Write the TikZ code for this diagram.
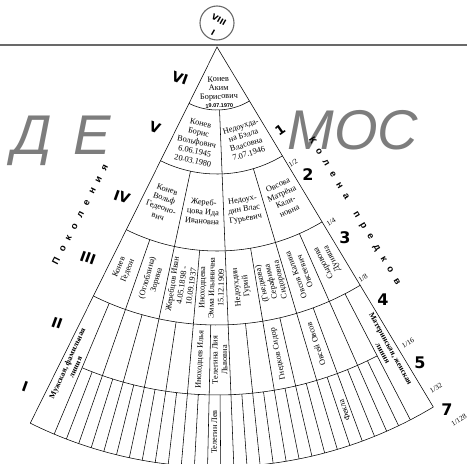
\documentclass[tikz,border=0pt]{standalone}
\usepackage{fontspec}
\setmainfont{Liberation Serif}
\setsansfont{Liberation Sans}
\newfontfamily\heavyfont{DejaVu Sans}
\usetikzlibrary{calc,positioning}

\definecolor{demosgray}{RGB}{125,125,125}
\definecolor{rulegray}{RGB}{105,105,105}

\newcommand{\fanstart}{-116.4}
\newcommand{\fanspread}{57.4}
\newcommand{\secang}[2]{(\fanstart+\fanspread*(#1-0.5)/#2)}
\newcommand{\lsp}{\hspace{7.5pt}}

\begin{document}
\begin{tikzpicture}[x=1pt,y=1pt,
    every node/.append style={inner sep=0pt},
    fanline/.style={line width=0.55pt},
    person/.style={font=\fontsize{8.3}{9.5}\selectfont,align=center},
    lineage/.style={font=\bfseries\fontsize{7.8}{9}\selectfont,align=center},
    generation/.style={font=\heavyfont\bfseries\fontsize{14}{14}\selectfont,rotate=-20},
    knee/.style={font=\heavyfont\bfseries\fontsize{16}{16}\selectfont},
    share/.style={font=\fontsize{7.2}{7.2}\selectfont,rotate=31},
    spaced title/.style={font=\sffamily\bfseries\fontsize{9.5}{9.5}\selectfont},
    demos/.style={font=\sffamily\itshape\fontsize{56}{56}\selectfont,text=demosgray,anchor=base},
  ]
  \useasboundingbox (0,0) rectangle (467,464);

  % top rule and circle
  \draw[rulegray,line width=1.3pt] (0,419) -- (467,419);
  \node[circle,draw=rulegray,line width=1.1pt,minimum size=34pt] (top) at (217,441) {};
  \node[font=\heavyfont\bfseries\fontsize{8}{8}\selectfont,rotate=-30] (topviii) at (219,444) {VIII};
  \node[font=\heavyfont\bfseries\fontsize{8}{8}\selectfont,rotate=-30] (topi) at (213,431) {I};

  % big grey letters
  \node[demos] (d) at (32,309) {Д};
  \node[demos] (e) at (92,309) {Е};
  \node[demos] (mos) at (353,314) {МОС};

  \begin{scope}[shift={(217,417)}]
    % fan outline and rings
    \draw[fanline] (\fanstart:420) -- (0,0) -- ({\fanstart+\fanspread}:420);
    \foreach \r in {63,127,204,278,420}
      \draw[fanline] (\fanstart:\r) arc[start angle=\fanstart,delta angle=\fanspread,radius=\r];
    \draw[fanline] ({\fanstart+\fanspread/16}:348)
      arc[start angle={\fanstart+\fanspread/16},delta angle={\fanspread*14/16},radius=348];

    % radial lines
    \draw[fanline] ({\fanstart+\fanspread/2}:63) -- ({\fanstart+\fanspread/2}:420);
    \foreach \k in {1,3}
      \draw[fanline] ({\fanstart+\fanspread*\k/4}:127) -- ({\fanstart+\fanspread*\k/4}:420);
    \foreach \k in {1,3,5,7}
      \draw[fanline] ({\fanstart+\fanspread*\k/8}:204) -- ({\fanstart+\fanspread*\k/8}:420);
    \foreach \k in {1,3,...,15}
      \draw[fanline] ({\fanstart+\fanspread*\k/16}:278) -- ({\fanstart+\fanspread*\k/16}:420);
    \foreach \k in {3,5,...,29}
      \draw[fanline] ({\fanstart+\fanspread*\k/32}:348) -- ({\fanstart+\fanspread*\k/32}:420);

    % generation VI
    \node[person,font=\fontsize{8.3}{8.6}\selectfont,rotate={\secang{1}{1}+90}] (akim) at ({\secang{1}{1}}:45)
      {Конев\\Аким\\Борисович\\{\sffamily\bfseries\fontsize{5.5}{6}\selectfont 19.07.1970}};

    % generation V
    \node[person,rotate={\secang{1}{2}+90}] (boris) at ({\secang{1}{2}}:97)
      {Конев\\Борис\\Вольфович\\6.06.1945\\20.03.1980};
    \node[person,rotate={\secang{2}{2}+90}] (bella) at ({\secang{2}{2}}:97)
      {Недоухда-\\на Бэлла\\Власовна\\7.07.1946};

    % generation IV
    \node[person,rotate={\secang{1}{4}+90}] (volf) at ({\secang{1}{4}}:165)
      {Конев\\Вольф\\Гедеоно-\\вич};
    \node[person,rotate={\secang{2}{4}+90}] (ida) at ({\secang{2}{4}}:165)
      {Жереб-\\цова Ида\\Ивановна};
    \node[person,rotate={\secang{3}{4}+90}] (vlas) at ({\secang{3}{4}}:165)
      {Недоух-\\дин Влас\\Гурьевич};
    \node[person,rotate={\secang{4}{4}+90}] (matrena) at ({\secang{4}{4}}:165)
      {Овсова\\Матрёна\\Кали-\\новна};

    % generation III
    \node[person,rotate={\secang{1}{8}+180}] (gedeon) at ({\secang{1}{8}}:241) {Конев\\Гедеон};
    \node[person,rotate={\secang{2}{8}+180}] (zorina) at ({\secang{2}{8}}:241) {(Оглоблина)\\Зорина};
    \node[person,rotate={\secang{3}{8}+180}] (ivan) at ({\secang{3}{8}}:241)
      {Жеребцов Иван\\4.05.1898 -\\10.09.1937};
    \node[person,rotate={\secang{4}{8}+180}] (emma) at ({\secang{4}{8}}:241)
      {Иноходцева\\Эмма Ильинична\\15.12.1909};
    \node[person,rotate={\secang{5}{8}+180}] (guriy) at ({\secang{5}{8}}:241) {Недоухдин\\Гурий};
    \node[person,rotate={\secang{6}{8}+180}] (serafima) at ({\secang{6}{8}}:241)
      {(Гнедкова)\\Серафима\\Сидоровна};
    \node[person,rotate={\secang{7}{8}+180}] (kalina) at ({\secang{7}{8}}:241) {Овсов Калина\\Овсеевич};
    \node[person,rotate={\secang{8}{8}+180}] (dunyasha) at ({\secang{8}{8}}:241) {Сыровова\\Дуняша};

    % generation II
    \node[person,rotate={\secang{7}{16}+180}] (ilya) at ({\secang{7}{16}}:313) {Иноходцев Илья};
    \node[person,rotate={\secang{8}{16}+180}] (liya) at ({\secang{8}{16}}:313) {Телегина Лия\\Львовна};
    \node[person,rotate={\secang{11}{16}+180}] (sidor) at ({\secang{11}{16}}:313) {Гнедков Сидор};
    \node[person,rotate={\secang{13}{16}+180}] (ovsey) at ({\secang{13}{16}}:313) {Овсей Овсов};

    % generation I
    \node[person,rotate={\secang{15}{32}+180}] (lev) at ({\secang{15}{32}}:385) {Телегин Лев};
    \node[person,rotate={\secang{26}{32}+180}] (fekla) at ({\secang{26}{32}}:385) {Фекла};

    % lineages
    \node[lineage,rotate={\secang{1}{16}+180}] (maleline) at ({\secang{1}{16}}:350)
      {Мужская, фамильная\\линия};
    \node[lineage,rotate={\secang{16}{16}}] (femaleline) at ({\secang{16}{16}}:348)
      {Материнская, женская\\линия};
  \end{scope}

  % generations on the left
  \node[generation] (gvi) at (180,386) {VI};
  \node[generation] (gv) at (155,336) {V};
  \node[generation] (giv) at (122,267) {IV};
  \node[generation] (giii) at (88,206) {III};
  \node[generation] (gii) at (57,141) {II};
  \node[generation] (gi) at (25,77) {I};
  \node[spaced title,rotate=62.8] (pokolenia) at (80,249.5)
    {П\lsp о\lsp к\lsp о\lsp л\lsp е\lsp н\lsp и\lsp я};

  % knees on the right
  \node[knee,font=\heavyfont\bfseries\fontsize{13}{13}\selectfont,rotate=35] (k1) at (280,334) {1};
  \node[share] (s2) at (293,301) {1/2};
  \node[knee] (k2) at (308,289) {2};
  \node[share] (s4) at (331,242) {1/4};
  \node[knee] (k3) at (345,226) {3};
  \node[share] (s8) at (363,186) {1/8};
  \node[knee] (k4) at (383,164) {4};
  \node[share] (s16) at (408,121) {1/16};
  \node[knee] (k5) at (420,101) {5};
  \node[share] (s32) at (436,76) {1/32};
  \node[knee] (k7) at (447,54) {7};
  \node[share] (s128) at (459,44) {1/128};
  \node[spaced title,rotate=-59] (kolena) at (354.5,253)
    {К\lsp о\lsp л\lsp е\lsp н\lsp а\lsp\lsp п\lsp р\lsp е\lsp д\lsp к\lsp о\lsp в};
\end{tikzpicture}
\end{document}
